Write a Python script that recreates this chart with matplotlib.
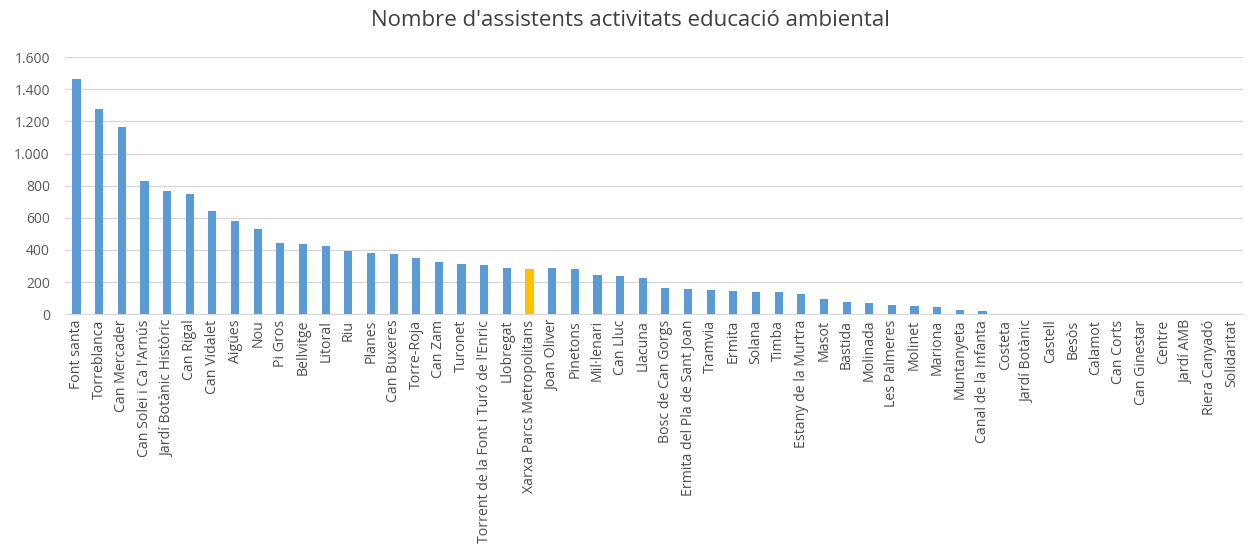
import numpy as np
import matplotlib.pyplot as plt
from matplotlib.ticker import FuncFormatter

## Categories and attendance values
llocs = [
    'Font santa', 'Torreblanca', 'Can Mercader', "Can Solei i Ca l'Arnús",
    'Jardí Botànic Històric', 'Can Rigal', 'Can Vidalet', 'Aigües', 'Nou',
    'Pi Gros', 'Bellvitge', 'Litoral', 'Riu', 'Planes', 'Can Buxeres',
    'Torre-Roja', 'Can Zam', 'Turonet', "Torrent de la Font i Turó de l'Enric",
    'Llobregat', 'Xarxa Parcs Metropolitans', 'Joan Oliver', 'Pinetons',
    'Mil·lenari', 'Can Lluc', 'Llacuna', 'Bosc de Can Gorgs',
    'Ermita del Pla de Sant Joan', 'Tramvia', 'Ermita', 'Solana', 'Timba',
    'Estany de la Murtra', 'Masot', 'Bastida', 'Molinada', 'Les Palmeres',
    'Molinet', 'Mariona', 'Muntanyeta', 'Canal de la Infanta', 'Costeta',
    'Jardí Botànic', 'Castell', 'Besòs', 'Calamot', 'Can Corts',
    'Can Ginestar', 'Centre', 'Jardí AMB', 'Riera Canyadó', 'Solidaritat',
]
assistents = [
    1465, 1278, 1166, 830, 768, 748, 645, 580, 530,
    440, 436, 425, 393, 380, 374,
    350, 322, 312, 305,
    290, 284, 285, 278,
    245, 240, 225, 162,
    157, 152, 147, 141, 135,
    128, 92, 74, 68, 54,
    48, 42, 26, 18, 0,
    0, 0, 0, 0, 0,
    0, 0, 0, 0, 0,
]
destacat = 'Xarxa Parcs Metropolitans'

BLUE = '#5B9BD5'
YELLOW = '#FFC000'
TEXT = '#4D4D4D'

plt.rcParams['font.family'] = ['Open Sans', 'DejaVu Sans']

fig = plt.figure(figsize=(12.53, 5.6), dpi=100)
ax = fig.add_axes([0.052, 0.439, 0.940, 0.459])

x = np.arange(len(llocs))
colors = [YELLOW if l == destacat else BLUE for l in llocs]
ax.bar(x, assistents, width=0.36, color=colors, zorder=3)

ax.set_xlim(-0.5, len(llocs) - 0.5)
ax.set_ylim(0, 1600)
ax.set_yticks(np.arange(0, 1601, 200))
ax.yaxis.set_major_formatter(FuncFormatter(lambda v, p: f'{int(v):,}'.replace(',', '.')))
ax.grid(axis='y', color='#D9D9D9', linewidth=1, zorder=0)

ax.set_xticks(x)
ax.set_xticklabels(llocs, rotation=90, fontsize=10.2, color=TEXT)
ax.tick_params(axis='y', labelsize=10, colors='#595959', length=0, pad=11)
ax.tick_params(axis='x', length=0, pad=4)

for s in ['top', 'right', 'left']:
    ax.spines[s].set_visible(False)
ax.spines['bottom'].set_color('#D9D9D9')

fig.text(0.503, 0.963, "Nombre d'assistents activitats educació ambiental",
         ha='center', va='center', fontsize=16, color='#404040')

fig.savefig('out.png', dpi=100)
